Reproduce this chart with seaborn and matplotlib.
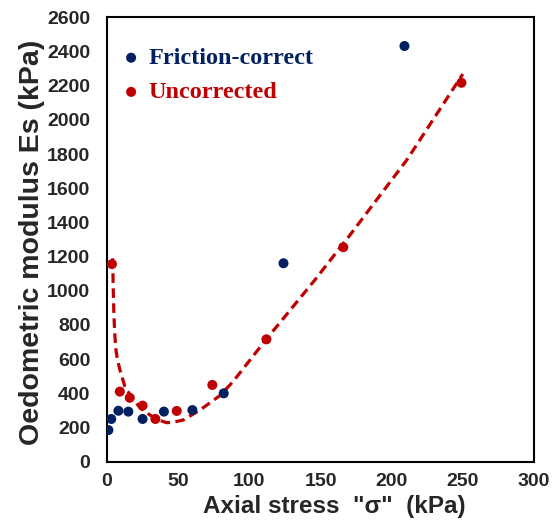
import numpy as np
import pandas as pd
import matplotlib
matplotlib.use("Agg")
import matplotlib.pyplot as plt
import seaborn as sns

# Data
fc_stress = [1, 3, 8, 15, 25, 40, 60, 82, 124, 209]
fc_modulus = [185, 250, 298, 293, 250, 293, 302, 400, 1161, 2432]

un_stress = [3.5, 9, 16, 25, 34, 49, 74, 112, 166, 249]
un_modulus = [1156, 410, 374, 328, 250, 297, 449, 716, 1255, 2217]

# Dashed trend line for the uncorrected series
trend_stress = [4.0, 4.4, 4.9, 5.5, 6.3, 7.5, 9.1, 12.6, 18.5, 24, 30.2, 36, 41.9,
                47, 53.6, 65.3, 79, 86.4, 92, 111.5, 146, 170.7, 210.6, 250]
trend_modulus = [1190, 1000, 849, 740, 653, 590, 537, 439, 361, 310, 273, 245, 228,
                 232, 244, 302, 385, 449, 505, 712, 1063, 1326, 1765, 2268]

x_ticks = [0, 50, 100, 150, 200, 250, 300]
y_ticks = list(range(0, 2601, 200))

BLUE = "#002060"
RED = "#C00000"

sns.set_theme(style="white")
plt.rcParams['font.family'] = ['Liberation Sans', 'DejaVu Sans']

fig = plt.figure(figsize=(5.58, 5.23), dpi=100)
ax = fig.add_axes([107/558, 1 - 461.7/523, (534-107)/558, (461.7-17.3)/523])

df_fc = pd.DataFrame({"stress": fc_stress, "modulus": fc_modulus})
df_un = pd.DataFrame({"stress": un_stress, "modulus": un_modulus})
df_tr = pd.DataFrame({"stress": trend_stress, "modulus": trend_modulus})

sns.lineplot(data=df_tr, x="stress", y="modulus", ax=ax, color=RED,
             linewidth=2.3, sort=False, zorder=2)
tl = ax.lines[-1]
tl.set_dashes([3.0, 1.7])
tl.set_dash_joinstyle("round")

sns.scatterplot(data=df_fc, x="stress", y="modulus", ax=ax, color=BLUE,
                s=52, edgecolor="none", zorder=3, label="Friction-correct")
sns.scatterplot(data=df_un, x="stress", y="modulus", ax=ax, color=RED,
                s=52, edgecolor="none", zorder=3, label="Uncorrected")

ax.set_xlim(0, 300)
ax.set_ylim(0, 2600)
ax.set_xticks(x_ticks)
ax.set_yticks(y_ticks)
ax.set_xticklabels([str(v) for v in x_ticks], fontsize=14, fontweight="bold")
ax.set_yticklabels([str(v) for v in y_ticks], fontsize=14, fontweight="bold")
ax.tick_params(axis="y", length=0, pad=12)
ax.tick_params(axis="x", length=0, pad=8)

for sp in ax.spines.values():
    sp.set_visible(True)
    sp.set_color("black")
    sp.set_linewidth(1.5)

ax.set_xlabel('Axial stress  "σ"  (kPa)', fontsize=17.5, fontweight="bold")
ax.set_ylabel("Oedometric modulus Es (kPa)", fontsize=20.5, fontweight="bold")
ax.xaxis.set_label_coords(0.533, -0.076)
ax.yaxis.set_label_coords(-0.145, 0.493)

leg = ax.legend(loc="upper left", bbox_to_anchor=(0.028, 0.933), frameon=False,
                handlelength=1.0, handletextpad=0.2, borderaxespad=0.0,
                borderpad=0.0, labelspacing=0.5, markerscale=1.0,
                prop={"family": "Liberation Serif", "weight": "bold", "size": 17.5})
for txt, col in zip(leg.get_texts(), [BLUE, RED]):
    txt.set_color(col)

fig.savefig("out.png", dpi=100)
